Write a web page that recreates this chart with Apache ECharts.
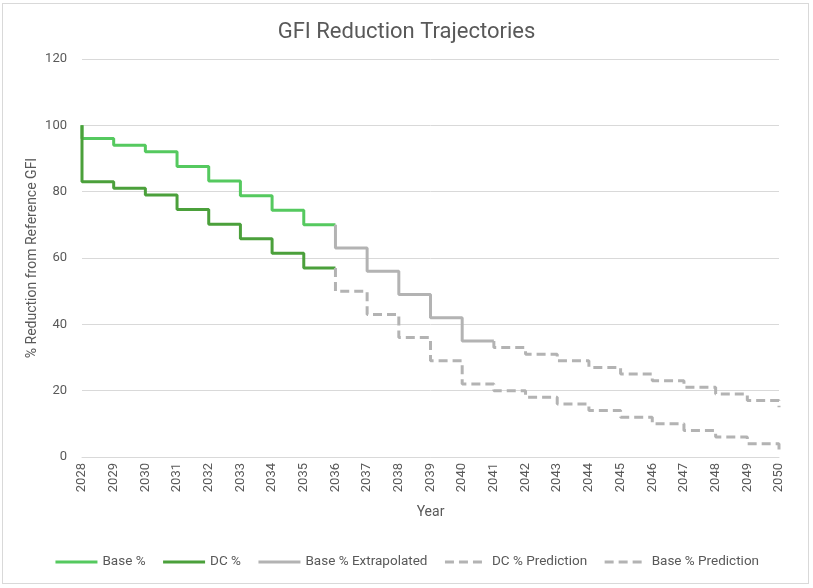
<!DOCTYPE html>
<html>
<head>
<meta charset="utf-8">
<script src="https://cdn.jsdelivr.net/npm/echarts@6/dist/echarts.min.js"></script>
<style>
  html, body { margin: 0; padding: 0; background: #fff; }
  #frame { position: absolute; left: 2px; top: 3px; width: 807px; height: 581px; border: 1px solid #d9d9d9; box-sizing: border-box; }
  #chart { position: absolute; left: 0; top: 0; width: 813px; height: 588px; }
</style>
</head>
<body>
<div id="frame"></div>
<div id="chart"></div>
<script>
// ---- data ----
const baseYears = [2028, 2029, 2030, 2031, 2032, 2033, 2034, 2035, 2036];
const baseVals  = [100, 96, 94, 92, 87.6, 83.2, 78.8, 74.4, 70];
const dcVals    = [100, 83, 81, 79, 74.6, 70.2, 65.8, 61.4, 57];
const extrapYears = [2036, 2037, 2038, 2039, 2040, 2041];
const extrapVals  = [70, 63, 56, 49, 42, 35];
const dcPredYears = [2036, 2037, 2038, 2039, 2040, 2041, 2042, 2043, 2044, 2045, 2046, 2047, 2048, 2049, 2050, 2050];
const dcPredVals  = [57, 50, 43, 36, 29, 22, 20, 18, 16, 14, 12, 10, 8, 6, 4, 2];
const basePredYears = [2041, 2042, 2043, 2044, 2045, 2046, 2047, 2048, 2049, 2050, 2050];
const basePredVals  = [35, 33, 31, 29, 27, 25, 23, 21, 19, 17, 15];
const seriesNames = ['Base %', 'DC %', 'Base % Extrapolated', 'DC % Prediction', 'Base % Prediction'];

const pairs = (xs, ys) => xs.map((x, i) => [x, ys[i]]);

const txt = '#595959';
const font = 'Roboto, "Noto Sans", sans-serif';
const lightGreen = '#55c95f';
const darkGreen = '#4ba03b';
const gray = '#b3b3b3';

function mk(name, data, color, dashed) {
  return {
    name: name, type: 'line', step: 'start', data: data,
    symbol: 'none', showSymbol: false,
    lineStyle: { color: color, width: 3, type: dashed ? [9, 5] : 'solid', cap: 'butt' },
    itemStyle: { color: color },
    emphasis: { disabled: true },
    animation: false
  };
}

const chart = echarts.init(document.getElementById('chart'), null, { renderer: 'canvas' });
chart.setOption({
  backgroundColor: 'transparent',
  animation: false,
  textStyle: { fontFamily: font, color: txt },
  title: {
    text: 'GFI Reduction Trajectories',
    left: 'center', top: 16,
    textStyle: { fontFamily: font, fontSize: 22, fontWeight: 'normal', color: txt }
  },
  grid: { left: 82, right: 34, top: 59, bottom: 131, containLabel: false },
  xAxis: {
    type: 'value', min: 2028, max: 2050, interval: 1,
    name: 'Year', nameLocation: 'middle', nameGap: 48,
    nameTextStyle: { fontFamily: font, fontSize: 14, color: txt },
    axisLine: { show: true, lineStyle: { color: '#d9d9d9', width: 1 } },
    axisTick: { show: false },
    splitLine: { show: false },
    axisLabel: { rotate: 90, fontSize: 13, color: txt, fontFamily: font, margin: 6, formatter: v => String(v) }
  },
  yAxis: {
    type: 'value', min: 0, max: 120, interval: 20,
    name: '% Reduction from Reference GFI', nameLocation: 'middle', nameGap: 43,
    nameMoveOverlap: false,
    nameTextStyle: { fontFamily: font, fontSize: 14, color: txt },
    axisLine: { show: false }, axisTick: { show: false },
    splitLine: { lineStyle: { color: '#d9d9d9', width: 1 } },
    axisLabel: { fontSize: 13, color: txt, fontFamily: font, margin: 15 }
  },
  legend: {
    data: seriesNames,
    bottom: 14, left: 'center',
    itemWidth: 42, itemHeight: 12, itemGap: 16,
    itemStyle: { opacity: 0 },
    lineStyle: { width: 3 },
    textStyle: { fontFamily: font, fontSize: 13.5, color: txt },
    selectedMode: false
  },
  series: [
    mk(seriesNames[0], pairs(baseYears, baseVals), lightGreen, false),
    mk(seriesNames[1], pairs(baseYears, dcVals), darkGreen, false),
    mk(seriesNames[2], pairs(extrapYears, extrapVals), gray, false),
    mk(seriesNames[3], pairs(dcPredYears, dcPredVals), gray, true),
    mk(seriesNames[4], pairs(basePredYears, basePredVals), gray, true)
  ]
});
</script>
</body>
</html>
